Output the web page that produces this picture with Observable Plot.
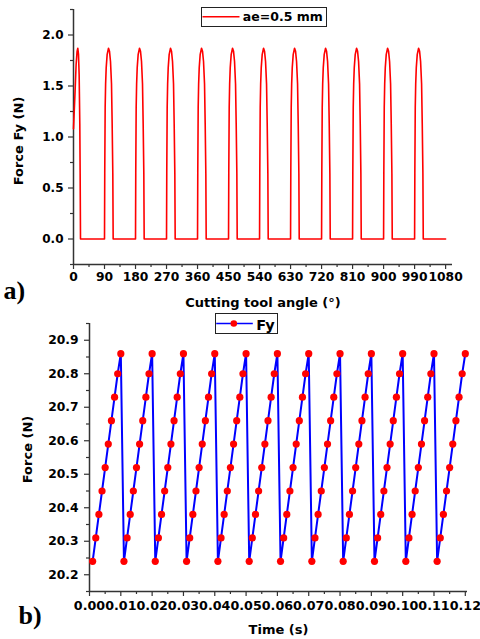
<!DOCTYPE html>
<html><head><meta charset="utf-8">
<script src="https://cdn.jsdelivr.net/npm/d3@7"></script>
<script src="https://cdn.jsdelivr.net/npm/@observablehq/plot@0.6"></script>
<style>
body{margin:0;background:#fff;}
#wrap{position:relative;width:480px;height:639px;overflow:hidden;background:#fff;}
#wrap > svg{position:absolute;left:0;}
#wrap text{font-weight:bold;}
.leg{position:absolute;box-sizing:border-box;border:1.5px solid #222;background:#fff;}
.leg svg{position:absolute;left:0;top:0;overflow:visible;}
</style></head><body><div id="wrap"></div>
<script>
// ---------- (a) Force Fy vs cutting tool angle ----------
const firstAngles = [0, 4.6, 7.6, 10.4, 12.5, 14.5, 16.4, 18.3, 19.3, 20.3];
const firstValues = [1.08, 1.45, 1.71, 1.84, 1.87, 1.81, 1.61, 1.13, 0.64, 0];
const pulseStarts = [90, 180, 270, 360, 450, 540, 630, 720, 810, 900, 990];
const pulseOffsets = [0, 0.7, 1.9, 3.2, 4.9, 7.7, 11.6, 14.5, 17.4, 20.3, 22.2, 24.1, 25.1];
const pulseValues  = [0, 0.65, 1.29, 1.52, 1.68, 1.81, 1.87, 1.84, 1.74, 1.52, 1.13, 0.64, 0];
const endAngle = 1080;
const angleTicks = [0, 90, 180, 270, 360, 450, 540, 630, 720, 810, 900, 990, 1080];
const fyTicks = [0.0, 0.5, 1.0, 1.5, 2.0];
const fyMinor = [-0.25, 0.25, 0.75, 1.25, 1.75, 2.25];

// ---------- (b) Force vs time ----------
const periodStarts = [0, 0.01, 0.02, 0.03, 0.04, 0.05, 0.06, 0.07, 0.08, 0.09, 0.10, 0.11];
const stepOffsets = [0.001, 0.002, 0.003, 0.004, 0.005, 0.006, 0.007, 0.008, 0.009, 0.010];
const sawValues = [20.24, 20.31, 20.38, 20.45, 20.52, 20.59, 20.66, 20.73, 20.80, 20.86];
const timeTicks = [0, 0.01, 0.02, 0.03, 0.04, 0.05, 0.06, 0.07, 0.08, 0.09, 0.10, 0.11, 0.12];
const forceTicks = [20.2, 20.3, 20.4, 20.5, 20.6, 20.7, 20.8, 20.9];
const forceMinor = [20.15, 20.25, 20.35, 20.45, 20.55, 20.65, 20.75, 20.85, 20.95];

const font = "DejaVu Sans";
const axisColor = "#333";

const topData = [];
firstAngles.forEach((a, i) => topData.push({angle: a, force: firstValues[i]}));
pulseStarts.forEach(s => pulseOffsets.forEach((o, i) => topData.push({angle: s + o, force: pulseValues[i]})));
topData.push({angle: endAngle, force: 0});

const botData = [];
periodStarts.forEach(p => stepOffsets.forEach((o, i) => botData.push({time: +(p + o).toFixed(4), force: sawValues[i]})));

const angleMinor = d3.range(45, 1080, 90);
const timeMinor = d3.range(0.005, 0.12, 0.01);

const baseStyle = {fontFamily: font, fontWeight: "bold", fontSize: "12px", color: "#000", background: "#fff", overflow: "visible"};
const tickText = {fontWeight: "bold", fontSize: 12, fill: "#000"};

const topPlot = Plot.plot({
  width: 480, height: 310,
  marginLeft: 73, marginRight: 28, marginTop: 9, marginBottom: 46,
  style: baseStyle,
  x: {domain: [0, 1100]},
  y: {domain: [-0.25, 2.25]},
  marks: [
    Plot.axisX({ticks: angleMinor, tickFormat: () => "", tickSize: 3, label: null, stroke: axisColor, strokeWidth: 1.2}),
    Plot.axisX({ticks: angleTicks, tickFormat: d => String(d), tickSize: 5, tickPadding: 3, label: null, stroke: axisColor, strokeWidth: 1.2, ...tickText, fontSize: 12.3}),
    Plot.axisY({ticks: fyMinor, tickFormat: () => "", tickSize: 3, label: null, stroke: axisColor, strokeWidth: 1.2}),
    Plot.axisY({ticks: fyTicks, tickFormat: d3.format(".1f"), tickSize: 5, tickPadding: 5, label: null, stroke: axisColor, strokeWidth: 1.2, ...tickText}),
    Plot.ruleX([0], {stroke: axisColor, strokeWidth: 1.5}),
    Plot.ruleY([-0.25], {stroke: axisColor, strokeWidth: 1.5}),
    Plot.line(topData, {x: "angle", y: "force", stroke: "#ff0000", strokeWidth: 1.6}),
    Plot.text(["Cutting tool angle (°)"], {frameAnchor: "bottom", lineAnchor: "middle", dy: 38, fontSize: 13, fontWeight: "bold", fill: "#000"}),
    Plot.text(["Force Fy (N)"], {frameAnchor: "left", lineAnchor: "middle", textAnchor: "middle", dx: -55, dy: 4, rotate: -90, fontSize: 13, fontWeight: "bold", fill: "#000"}),
    Plot.text(["a)"], {frameAnchor: "bottom-left", lineAnchor: "middle", textAnchor: "start", dx: -70, dy: 26, fontSize: 26, fontFamily: "Liberation Serif", fontWeight: "bold", fill: "#000"})
  ]
});

const botPlot = Plot.plot({
  width: 480, height: 329,
  marginLeft: 89, marginRight: 13, marginTop: 13, marginBottom: 48,
  style: baseStyle,
  x: {domain: [0, 0.1207]},
  y: {domain: [20.15, 20.95]},
  marks: [
    Plot.axisX({ticks: timeMinor, tickFormat: () => "", tickSize: 3, label: null, stroke: axisColor, strokeWidth: 1.2}),
    Plot.axisX({ticks: timeTicks, tickFormat: d3.format(".2f"), tickSize: 5, tickPadding: 4, label: null, stroke: axisColor, strokeWidth: 1.2, ...tickText, fontSize: 12.7}),
    Plot.axisY({ticks: forceMinor, tickFormat: () => "", tickSize: 3, label: null, stroke: axisColor, strokeWidth: 1.2}),
    Plot.axisY({ticks: forceTicks, tickFormat: d3.format(".1f"), tickSize: 5, tickPadding: 6, label: null, stroke: axisColor, strokeWidth: 1.2, ...tickText, fontSize: 12.3}),
    Plot.ruleX([0], {stroke: axisColor, strokeWidth: 1.5}),
    Plot.ruleY([20.15], {stroke: axisColor, strokeWidth: 1.5}),
    Plot.line(botData, {x: "time", y: "force", stroke: "#0000ff", strokeWidth: 2}),
    Plot.dot(botData, {x: "time", y: "force", r: 3.6, fill: "#ff0000", stroke: "none"}),
    Plot.text(["Time (s)"], {frameAnchor: "bottom", lineAnchor: "middle", dy: 38, fontSize: 13, fontWeight: "bold", fill: "#000"}),
    Plot.text(["Force (N)"], {frameAnchor: "left", lineAnchor: "middle", textAnchor: "middle", dx: -62, dy: -8, rotate: -90, fontSize: 13, fontWeight: "bold", fill: "#000"}),
    Plot.text(["b)"], {frameAnchor: "bottom-left", lineAnchor: "middle", textAnchor: "start", dx: -71, dy: 24, fontSize: 26, fontFamily: "Liberation Serif", fontWeight: "bold", fill: "#000"})
  ]
});

const wrap = document.getElementById("wrap");
topPlot.style.top = "0px";
botPlot.style.top = "310px";
wrap.appendChild(topPlot);
wrap.appendChild(botPlot);

// legends
function legend(left, top, w, h, build) {
  const div = document.createElement("div");
  div.className = "leg";
  Object.assign(div.style, {left: left + "px", top: top + "px", width: w + "px", height: h + "px"});
  const svg = d3.select(div).append("svg").attr("width", w - 3).attr("height", h - 3);
  build(svg);
  wrap.appendChild(div);
}
legend(201, 7, 126, 20, svg => {
  svg.append("line").attr("x1", 0.5).attr("x2", 37.5).attr("y1", 8.8).attr("y2", 8.8)
    .attr("stroke", "#ff0000").attr("stroke-width", 1.6);
  svg.append("text").attr("x", 40.8).attr("y", 13.3).text("ae=0.5 mm")
    .attr("font-family", font).attr("font-weight", "bold").attr("font-size", 12.5).attr("fill", "#000");
});
legend(215, 313, 63, 21, svg => {
  svg.append("line").attr("x1", 0.2).attr("x2", 36.8).attr("y1", 9.5).attr("y2", 9.5)
    .attr("stroke", "#0000ff").attr("stroke-width", 1.6);
  svg.append("circle").attr("cx", 17.8).attr("cy", 9.5).attr("r", 3.3).attr("fill", "#ff0000");
  svg.append("text").attr("x", 40.2).attr("y", 15.5).text("Fy")
    .attr("font-family", font).attr("font-weight", "bold").attr("font-size", 14.5).attr("fill", "#000");
});
</script></body></html>
